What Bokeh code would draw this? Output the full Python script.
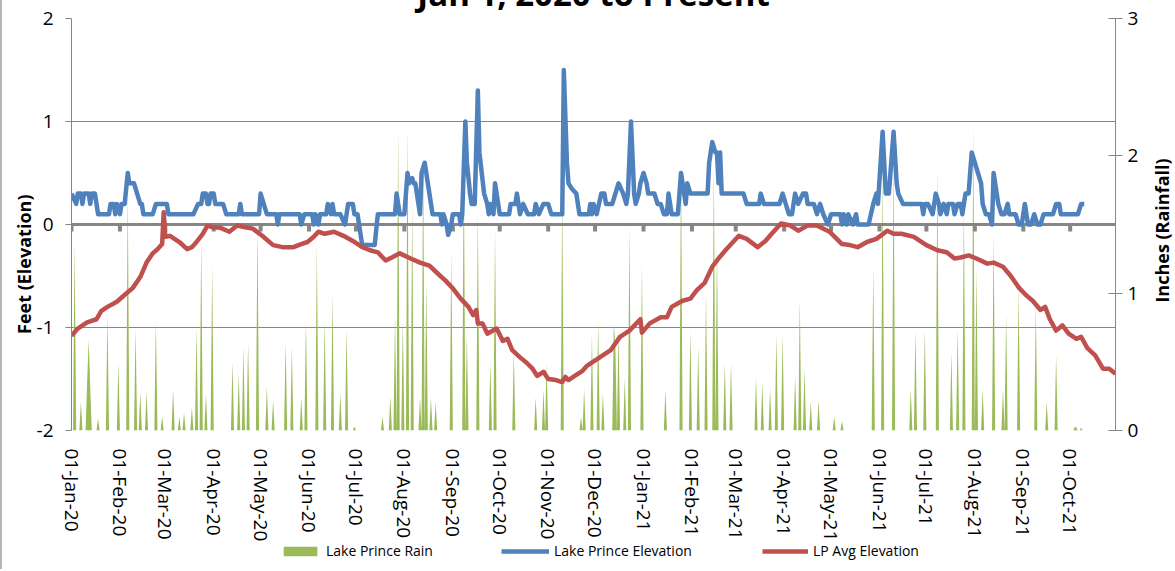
import pandas as pd
from math import pi
from bokeh.plotting import figure
from bokeh.models import (Range1d, LinearAxis, FixedTicker, Legend, LegendItem, Label)
from bokeh.embed import file_html
from bokeh.resources import INLINE

FONT = "Open Sans"
GRAY = "#868686"
GREEN, BLUE, RED = "#9BBB59", "#4F81BD", "#C0504D"

TITLE = "Jan 1, 2020 to Present"
START = "2020-01-01"
END = "2021-10-30"
LEFT_TITLE = "Feet (Elevation)"
RIGHT_TITLE = "Inches (Rainfall)"
LEFT_TICKS = [-2, -1, 0, 1, 2]
RIGHT_TICKS = [0, 1, 2, 3]
SERIES_NAMES = ["Lake Prince Rain", "Lake Prince Elevation", "LP Avg Elevation"]

RAIN_DATES = [
    "2020-01-03", "2020-01-07", "2020-01-11", "2020-01-12", "2020-01-13", "2020-01-18", "2020-01-24",
    "2020-01-31", "2020-02-06", "2020-02-11", "2020-02-14", "2020-02-18", "2020-02-24", "2020-02-28",
    "2020-03-06", "2020-03-10", "2020-03-13", "2020-03-18", "2020-03-21", "2020-03-24", "2020-03-27",
    "2020-03-31", "2020-04-13", "2020-04-17", "2020-04-20", "2020-04-23", "2020-04-29", "2020-05-05",
    "2020-05-09", "2020-05-17", "2020-05-21", "2020-05-27", "2020-05-30", "2020-06-06", "2020-06-11",
    "2020-06-16", "2020-06-21", "2020-06-25", "2020-06-30", "2020-07-18", "2020-07-23", "2020-07-26",
    "2020-07-28", "2020-07-31", "2020-08-03", "2020-08-06", "2020-08-11", "2020-08-13", "2020-08-15",
    "2020-08-18", "2020-08-21", "2020-08-31", "2020-09-08", "2020-09-10", "2020-09-17", "2020-09-25",
    "2020-09-28", "2020-10-10", "2020-10-24", "2020-10-29", "2020-10-31", "2020-11-10", "2020-11-22",
    "2020-11-24", "2020-11-29", "2020-12-03", "2020-12-06", "2020-12-13", "2020-12-14", "2020-12-16",
    "2020-12-20", "2020-12-23", "2020-12-31", "2021-01-15", "2021-01-25", "2021-01-31", "2021-02-05",
    "2021-02-10", "2021-02-15", "2021-02-17", "2021-02-22", "2021-02-26", "2021-03-14", "2021-03-18",
    "2021-03-23", "2021-03-27", "2021-03-31", "2021-04-08", "2021-04-11", "2021-04-14", "2021-04-18",
    "2021-04-23", "2021-05-03", "2021-05-08", "2021-05-28", "2021-06-03", "2021-06-10", "2021-06-21",
    "2021-06-24", "2021-06-30", "2021-07-08", "2021-07-17", "2021-07-21", "2021-07-25", "2021-07-31",
    "2021-08-02", "2021-08-06", "2021-08-13", "2021-08-19", "2021-08-21", "2021-08-29", "2021-09-09",
    "2021-09-16", "2021-09-22", "2021-10-04", "2021-10-05", "2021-10-08",
]
RAIN_INCHES = [
    1.37, 0.21, 0.35, 0.66, 0.30, 0.09, 0.85,
    0.49, 1.75, 0.74, 0.28, 0.28, 0.80, 0.10,
    0.30, 0.10, 0.13, 0.17, 0.75, 1.40, 0.27,
    1.20, 0.50, 0.41, 0.61, 0.64, 1.50, 0.32,
    0.22, 0.64, 0.61, 0.24, 0.80, 1.35, 0.81,
    0.99, 0.27, 0.74, 0.03, 0.10, 0.25, 0.84,
    2.20, 0.80, 2.20, 1.65, 0.24, 2.00, 1.09,
    0.24, 0.21, 1.30, 2.00, 0.71, 1.60, 0.49,
    1.47, 0.58, 0.24, 0.30, 0.49, 1.72, 0.10,
    0.30, 0.70, 0.80, 0.27, 0.78, 0.61, 0.74,
    0.38, 1.48, 1.21, 0.30, 1.98, 0.73, 0.61,
    1.00, 1.93, 1.36, 0.49, 0.49, 0.38, 0.35,
    0.30, 0.70, 0.70, 0.40, 0.96, 0.45, 0.21,
    0.22, 0.10, 0.07, 1.20, 1.90, 2.00, 0.30,
    0.73, 0.74, 1.91, 0.57, 0.74, 1.65, 2.22,
    1.18, 0.30, 1.44, 0.30, 0.85, 1.03, 0.91,
    0.21, 0.55, 0.03, 0.02, 0.02,
]

ELEV_DATES = [
    "2020-01-01", "2020-01-04", "2020-01-05", "2020-01-07", "2020-01-08", "2020-01-09", "2020-01-12",
    "2020-01-13", "2020-01-14", "2020-01-16", "2020-01-18", "2020-01-25", "2020-01-26", "2020-01-28",
    "2020-01-29", "2020-01-30", "2020-02-01", "2020-02-02", "2020-02-04", "2020-02-06", "2020-02-07",
    "2020-02-10", "2020-02-12", "2020-02-14", "2020-02-15", "2020-02-16", "2020-02-22", "2020-02-24",
    "2020-03-02", "2020-03-03", "2020-03-19", "2020-03-22", "2020-03-24", "2020-03-25", "2020-03-27",
    "2020-03-28", "2020-03-29", "2020-03-30", "2020-04-01", "2020-04-02", "2020-04-07", "2020-04-09",
    "2020-04-17", "2020-04-18", "2020-04-19", "2020-04-30", "2020-05-01", "2020-05-03", "2020-05-05",
    "2020-05-11", "2020-05-12", "2020-05-13", "2020-05-26", "2020-05-27", "2020-05-29", "2020-06-03",
    "2020-06-04", "2020-06-05", "2020-06-07", "2020-06-08", "2020-06-12", "2020-06-13", "2020-06-15",
    "2020-06-16", "2020-06-17", "2020-06-21", "2020-06-24", "2020-06-26", "2020-06-29", "2020-06-30",
    "2020-07-02", "2020-07-03", "2020-07-05", "2020-07-13", "2020-07-15", "2020-07-26", "2020-07-27",
    "2020-07-29", "2020-08-01", "2020-08-03", "2020-08-04", "2020-08-06", "2020-08-07", "2020-08-08",
    "2020-08-09", "2020-08-11", "2020-08-12", "2020-08-14", "2020-08-17", "2020-08-19", "2020-08-24",
    "2020-08-25", "2020-08-26", "2020-08-28", "2020-08-29", "2020-08-31", "2020-09-01", "2020-09-05",
    "2020-09-06", "2020-09-07", "2020-09-09", "2020-09-10", "2020-09-12", "2020-09-13", "2020-09-15",
    "2020-09-17", "2020-09-18", "2020-09-21", "2020-09-23", "2020-09-24", "2020-09-25", "2020-09-27",
    "2020-09-28", "2020-09-30", "2020-10-01", "2020-10-07", "2020-10-08", "2020-10-11", "2020-10-12",
    "2020-10-14", "2020-10-16", "2020-10-19", "2020-10-23", "2020-10-24", "2020-10-26", "2020-10-29",
    "2020-11-01", "2020-11-03", "2020-11-10", "2020-11-11", "2020-11-13", "2020-11-14", "2020-11-16",
    "2020-11-19", "2020-11-21", "2020-11-27", "2020-11-28", "2020-11-29", "2020-11-30", "2020-12-02",
    "2020-12-05", "2020-12-07", "2020-12-08", "2020-12-12", "2020-12-14", "2020-12-16", "2020-12-19",
    "2020-12-21", "2020-12-22", "2020-12-24", "2020-12-26", "2020-12-27", "2020-12-29", "2020-12-30",
    "2021-01-01", "2021-01-03", "2021-01-04", "2021-01-08", "2021-01-10", "2021-01-12", "2021-01-14",
    "2021-01-16", "2021-01-17", "2021-01-19", "2021-01-23", "2021-01-25", "2021-01-27", "2021-01-28",
    "2021-01-29", "2021-01-31", "2021-02-11", "2021-02-12", "2021-02-14", "2021-02-16", "2021-02-17",
    "2021-02-18", "2021-02-19", "2021-02-20", "2021-03-06", "2021-03-08", "2021-03-16", "2021-03-17",
    "2021-03-19", "2021-03-29", "2021-03-31", "2021-04-02", "2021-04-04", "2021-04-06", "2021-04-08",
    "2021-04-10", "2021-04-13", "2021-04-15", "2021-04-16", "2021-04-20", "2021-04-22", "2021-04-24",
    "2021-04-26", "2021-04-29", "2021-05-01", "2021-05-07", "2021-05-08", "2021-05-09", "2021-05-11",
    "2021-05-12", "2021-05-15", "2021-05-17", "2021-05-18", "2021-05-25", "2021-05-28", "2021-05-30",
    "2021-05-31", "2021-06-03", "2021-06-05", "2021-06-07", "2021-06-10", "2021-06-12", "2021-06-13",
    "2021-06-16", "2021-06-28", "2021-06-29", "2021-06-30", "2021-07-02", "2021-07-05", "2021-07-07",
    "2021-07-09", "2021-07-10", "2021-07-12", "2021-07-14", "2021-07-15", "2021-07-18", "2021-07-19",
    "2021-07-21", "2021-07-23", "2021-07-24", "2021-07-26", "2021-07-28", "2021-07-30", "2021-08-01",
    "2021-08-03", "2021-08-05", "2021-08-06", "2021-08-08", "2021-08-10", "2021-08-12", "2021-08-13",
    "2021-08-15", "2021-08-16", "2021-08-18", "2021-08-20", "2021-08-22", "2021-08-23", "2021-08-27",
    "2021-08-29", "2021-08-31", "2021-09-02", "2021-09-04", "2021-09-06", "2021-09-08", "2021-09-10",
    "2021-09-12", "2021-09-14", "2021-09-20", "2021-09-22", "2021-09-24", "2021-09-25", "2021-10-06",
    "2021-10-08", "2021-10-10",
]
ELEV_FEET = [
    0.3, 0.2, 0.3, 0.3, 0.2, 0.3, 0.3,
    0.2, 0.3, 0.3, 0.1, 0.1, 0.2, 0.2,
    0.1, 0.2, 0.1, 0.2, 0.2, 0.5, 0.4,
    0.4, 0.3, 0.2, 0.2, 0.1, 0.1, 0.2,
    0.2, 0.1, 0.1, 0.2, 0.2, 0.3, 0.3,
    0.2, 0.2, 0.3, 0.3, 0.2, 0.2, 0.1,
    0.1, 0.2, 0.1, 0.1, 0.3, 0.2, 0.1,
    0.1, 0.0, 0.1, 0.1, 0.0, 0.1, 0.1,
    0.0, 0.1, 0.0, 0.1, 0.1, 0.2, 0.1,
    0.2, 0.1, 0.1, 0.0, 0.2, 0.2, 0.1,
    0.1, 0.0, -0.2, -0.2, 0.1, 0.1, 0.3,
    0.1, 0.1, 0.5, 0.4, 0.45, 0.4, 0.4,
    0.3, 0.1, 0.5, 0.6, 0.3, 0.1, 0.1,
    0.0, 0.1, 0.0, -0.1, 0.0, 0.1, 0.1,
    0.0, 0.1, 1.0, 0.6, 0.3, 0.2, 0.2,
    1.3, 0.7, 0.3, 0.2, 0.1, 0.2, 0.1,
    0.4, 0.2, 0.1, 0.1, 0.2, 0.2, 0.3,
    0.1, 0.2, 0.1, 0.1, 0.2, 0.1, 0.2,
    0.2, 0.1, 0.1, 1.5, 0.6, 0.4, 0.35,
    0.3, 0.1, 0.1, 0.2, 0.1, 0.2, 0.1,
    0.3, 0.3, 0.2, 0.2, 0.3, 0.4, 0.3,
    0.2, 0.3, 1.0, 0.3, 0.2, 0.3, 0.4,
    0.5, 0.4, 0.3, 0.3, 0.2, 0.2, 0.1,
    0.1, 0.3, 0.1, 0.1, 0.5, 0.3, 0.2,
    0.4, 0.3, 0.3, 0.6, 0.8, 0.7, 0.7,
    0.4, 0.7, 0.3, 0.3, 0.2, 0.2, 0.3,
    0.2, 0.2, 0.3, 0.2, 0.1, 0.1, 0.3,
    0.2, 0.3, 0.3, 0.2, 0.2, 0.1, 0.2,
    0.1, 0.0, 0.1, 0.1, 0.0, 0.1, 0.0,
    0.1, 0.0, 0.1, 0.0, 0.0, 0.2, 0.3,
    0.2, 0.9, 0.3, 0.3, 0.9, 0.4, 0.3,
    0.2, 0.2, 0.1, 0.2, 0.2, 0.1, 0.3,
    0.2, 0.1, 0.2, 0.1, 0.2, 0.2, 0.1,
    0.2, 0.2, 0.1, 0.3, 0.3, 0.7, 0.6,
    0.5, 0.4, 0.2, 0.1, 0.1, 0.0, 0.5,
    0.3, 0.2, 0.1, 0.1, 0.2, 0.1, 0.1,
    0.0, 0.0, 0.2, 0.0, 0.0, 0.1, 0.0,
    0.0, 0.1, 0.1, 0.2, 0.2, 0.1, 0.1,
    0.2, 0.2,
]

AVG_DATES = [
    "2020-01-01", "2020-01-05", "2020-01-11", "2020-01-17", "2020-01-20", "2020-01-24", "2020-01-30",
    "2020-02-05", "2020-02-09", "2020-02-14", "2020-02-18", "2020-02-22", "2020-02-25", "2020-02-28",
    "2020-02-29", "2020-03-01", "2020-03-04", "2020-03-10", "2020-03-15", "2020-03-18", "2020-03-21",
    "2020-03-25", "2020-03-28", "2020-04-01", "2020-04-05", "2020-04-11", "2020-04-16", "2020-04-22",
    "2020-04-26", "2020-05-02", "2020-05-09", "2020-05-15", "2020-05-22", "2020-05-27", "2020-05-31",
    "2020-06-04", "2020-06-07", "2020-06-11", "2020-06-17", "2020-06-23", "2020-06-29", "2020-07-05",
    "2020-07-10", "2020-07-15", "2020-07-20", "2020-07-24", "2020-07-29", "2020-08-05", "2020-08-11",
    "2020-08-17", "2020-08-24", "2020-08-27", "2020-09-01", "2020-09-06", "2020-09-11", "2020-09-14",
    "2020-09-16", "2020-09-17", "2020-09-20", "2020-09-23", "2020-09-29", "2020-10-03", "2020-10-06",
    "2020-10-09", "2020-10-14", "2020-10-18", "2020-10-22", "2020-10-25", "2020-10-29", "2020-11-01",
    "2020-11-06", "2020-11-10", "2020-11-12", "2020-11-14", "2020-11-18", "2020-11-23", "2020-11-26",
    "2020-12-04", "2020-12-11", "2020-12-17", "2020-12-23", "2020-12-30", "2020-12-31", "2021-01-05",
    "2021-01-12", "2021-01-16", "2021-01-19", "2021-01-26", "2021-01-31", "2021-02-04", "2021-02-09",
    "2021-02-14", "2021-02-18", "2021-02-23", "2021-03-03", "2021-03-08", "2021-03-15", "2021-03-20",
    "2021-03-24", "2021-03-30", "2021-04-05", "2021-04-10", "2021-04-16", "2021-04-22", "2021-04-30",
    "2021-05-08", "2021-05-13", "2021-05-18", "2021-05-24", "2021-05-30", "2021-06-06", "2021-06-10",
    "2021-06-15", "2021-06-23", "2021-07-01", "2021-07-08", "2021-07-14", "2021-07-19", "2021-07-23",
    "2021-07-28", "2021-08-02", "2021-08-09", "2021-08-13", "2021-08-19", "2021-08-24", "2021-08-29",
    "2021-09-03", "2021-09-07", "2021-09-12", "2021-09-15", "2021-09-18", "2021-09-22", "2021-09-26",
    "2021-09-30", "2021-10-05", "2021-10-08", "2021-10-12", "2021-10-17", "2021-10-22", "2021-10-26",
    "2021-10-30",
]
AVG_FEET = [
    -1.08, -1.01, -0.95, -0.92, -0.84, -0.80, -0.75,
    -0.67, -0.62, -0.51, -0.37, -0.28, -0.24, -0.19,
    0.12, -0.12, -0.11, -0.17, -0.24, -0.22, -0.17,
    -0.09, -0.01, -0.03, -0.03, -0.07, -0.01, -0.03,
    -0.04, -0.11, -0.20, -0.22, -0.22, -0.19, -0.17,
    -0.12, -0.07, -0.09, -0.07, -0.11, -0.16, -0.22,
    -0.25, -0.27, -0.35, -0.32, -0.28, -0.33, -0.37,
    -0.40, -0.50, -0.54, -0.62, -0.72, -0.80, -0.88,
    -0.83, -0.96, -0.96, -1.06, -1.01, -1.13, -1.11,
    -1.22, -1.29, -1.34, -1.40, -1.47, -1.43, -1.50,
    -1.51, -1.53, -1.48, -1.51, -1.47, -1.42, -1.37,
    -1.29, -1.22, -1.09, -1.03, -0.92, -1.05, -0.96,
    -0.90, -0.90, -0.80, -0.74, -0.72, -0.64, -0.57,
    -0.41, -0.33, -0.24, -0.11, -0.14, -0.22, -0.16,
    -0.09, 0.01, -0.01, -0.06, -0.01, -0.01, -0.07,
    -0.19, -0.20, -0.22, -0.17, -0.14, -0.06, -0.09,
    -0.09, -0.12, -0.20, -0.25, -0.27, -0.33, -0.32,
    -0.30, -0.33, -0.38, -0.37, -0.41, -0.50, -0.61,
    -0.69, -0.74, -0.83, -0.80, -0.92, -1.03, -0.98,
    -1.06, -1.11, -1.09, -1.20, -1.27, -1.40, -1.40,
    -1.45,
]

# daily rain series (zero on days without rain)
days = pd.date_range(START, END, freq="D")
rain = pd.Series(0.0, index=days)
rain[pd.to_datetime(RAIN_DATES)] = RAIN_INCHES

month_starts = pd.date_range(START, END, freq="MS")
tick_ms = [int(t.value // 10**6) for t in month_starts]
tick_labels = {ms: t.strftime("%d-%b-%y") for ms, t in zip(tick_ms, month_starts)}

p = figure(frame_width=1044, frame_height=412,
           x_range=Range1d(pd.Timestamp(START), pd.Timestamp(END)),
           y_range=Range1d(LEFT_TICKS[0], LEFT_TICKS[-1]),
           x_axis_type=None, output_backend="svg", toolbar_location=None,
           min_border_left=69, min_border_right=58, min_border_top=80, min_border_bottom=139)
# place the canvas so that the title is cut by the top of the page, as in the source;
# the shadow draws the chart-area border seen at the left edge
p.styles = {"position": "absolute", "left": "2px", "top": "-62px",
            "box-shadow": "-2px 0px 0px 0px #b4b4b4"}
p.outline_line_color = None
p.background_fill_color = "white"
p.border_fill_color = "white"
p.extra_y_ranges = {"rain": Range1d(RIGHT_TICKS[0], RIGHT_TICKS[-1])}

# title
p.title.text = TITLE
p.title.align = "center"
p.title.text_font = FONT
p.title.text_font_style = "bold"
p.title.text_font_size = "33px"
p.title.text_color = "black"
p.title.standoff = 6
p.title.offset = 11

# left axis
ya = p.yaxis[0]
ya.ticker = FixedTicker(ticks=LEFT_TICKS)
ya.major_label_overrides = {t: str(t) for t in LEFT_TICKS}
ya.minor_tick_line_color = None
ya.major_tick_in = 0
ya.major_tick_out = 6
ya.axis_line_color = GRAY
ya.major_tick_line_color = GRAY
ya.major_label_text_font = FONT
ya.major_label_text_font_size = "19px"
ya.major_label_text_color = "black"
ya.major_label_standoff = 12
ya.axis_label = LEFT_TITLE + "\u00a0" * 17
ya.axis_label_text_font = FONT
ya.axis_label_text_font_style = "bold"
ya.axis_label_text_font_size = "18px"
ya.axis_label_text_color = "black"
ya.axis_label_standoff = -2
p.ygrid.ticker = FixedTicker(ticks=LEFT_TICKS)
p.ygrid.grid_line_color = GRAY
p.ygrid.grid_line_width = 1

# right axis (its title is drawn by a small overlay figure below)
ra = LinearAxis(y_range_name="rain", ticker=FixedTicker(ticks=RIGHT_TICKS))
ra.minor_tick_line_color = None
ra.major_tick_in = 7
ra.major_tick_out = 7
ra.axis_line_color = GRAY
ra.major_tick_line_color = GRAY
ra.major_label_text_font = FONT
ra.major_label_text_font_size = "19px"
ra.major_label_text_color = "black"
ra.major_label_standoff = 5
p.add_layout(ra, "right")

# bottom (date) axis
xa = LinearAxis(ticker=FixedTicker(ticks=tick_ms), major_label_overrides=tick_labels)
xa.axis_line_color = None
xa.major_tick_line_color = None
xa.minor_tick_line_color = None
xa.major_label_orientation = "vertical"
xa.major_label_text_font = FONT
xa.major_label_text_font_size = "19px"
xa.major_label_text_color = "black"
xa.major_label_standoff = 12
p.add_layout(xa, "below")

# series
p.varea(x=days, y1=0, y2=rain.values, y_range_name="rain", fill_color=GREEN, fill_alpha=1.0)
p.hspan(y=[0], line_color=GRAY, line_width=3)
p.ray(x=month_starts, y=0, length=7, length_units="screen", angle=-pi / 2,
      line_color=GRAY, line_width=4)
p.line(x=pd.to_datetime(ELEV_DATES), y=ELEV_FEET, line_color=BLUE, line_width=4.5, line_join="round")
p.line(x=pd.to_datetime(AVG_DATES), y=AVG_FEET, line_color=RED, line_width=4.5, line_join="round")

# right-hand axis title, reading bottom to top (small transparent overlay figure)
t = figure(frame_width=26, frame_height=220, x_range=Range1d(0, 1), y_range=Range1d(0, 1),
           x_axis_type=None, y_axis_type=None, output_backend="svg", toolbar_location=None,
           min_border=0)
t.title.visible = False
t.outline_line_color = None
t.background_fill_alpha = 0
t.border_fill_alpha = 0
t.styles = {"position": "absolute", "left": "1148px", "top": "120px"}
t.add_layout(Label(x=0.5, y=0.5, text=RIGHT_TITLE, angle=pi / 2, text_align="center",
                   text_baseline="middle", text_font=FONT, text_font_style="bold",
                   text_font_size="18px", text_color="black"))

# legend strip under the date labels (overlay figure with legend-only renderers,
# whose single NaN point draws nothing)
NAN = float("nan")
lf = figure(frame_width=720, frame_height=30, x_range=Range1d(0, 1), y_range=Range1d(0, 1),
            x_axis_type=None, y_axis_type=None, output_backend="svg", toolbar_location=None,
            min_border=0)
lf.title.visible = False
lf.outline_line_color = None
lf.background_fill_alpha = 0
lf.border_fill_alpha = 0
lf.styles = {"position": "absolute", "left": "240px", "top": "536px"}
leg_rain = lf.varea(x=[NAN], y1=[NAN], y2=[NAN], fill_color=GREEN, fill_alpha=1.0)
leg_elev = lf.line(x=[NAN], y=[NAN], line_color=BLUE, line_width=4.5)
leg_avg = lf.line(x=[NAN], y=[NAN], line_color=RED, line_width=4.5)
for rend, name, xoff, gw in [(leg_rain, SERIES_NAMES[0], 39, 42),
                             (leg_elev, SERIES_NAMES[1], 261, 48),
                             (leg_avg, SERIES_NAMES[2], 522, 46)]:
    lg = Legend(items=[LegendItem(label=name, renderers=[rend], index=0)], location=(xoff, 6))
    lg.padding = 0
    lg.margin = 0
    lg.spacing = 0
    lg.border_line_color = None
    lg.background_fill_alpha = 0
    lg.glyph_width = gw
    lg.glyph_height = 12
    lg.label_standoff = 5
    lg.label_text_font = FONT
    lg.label_text_font_size = "14px"
    lg.label_text_color = "black"
    lg.label_height = 16
    lf.add_layout(lg, "center")

open("out.html", "w").write(file_html([p, t, lf], INLINE))
